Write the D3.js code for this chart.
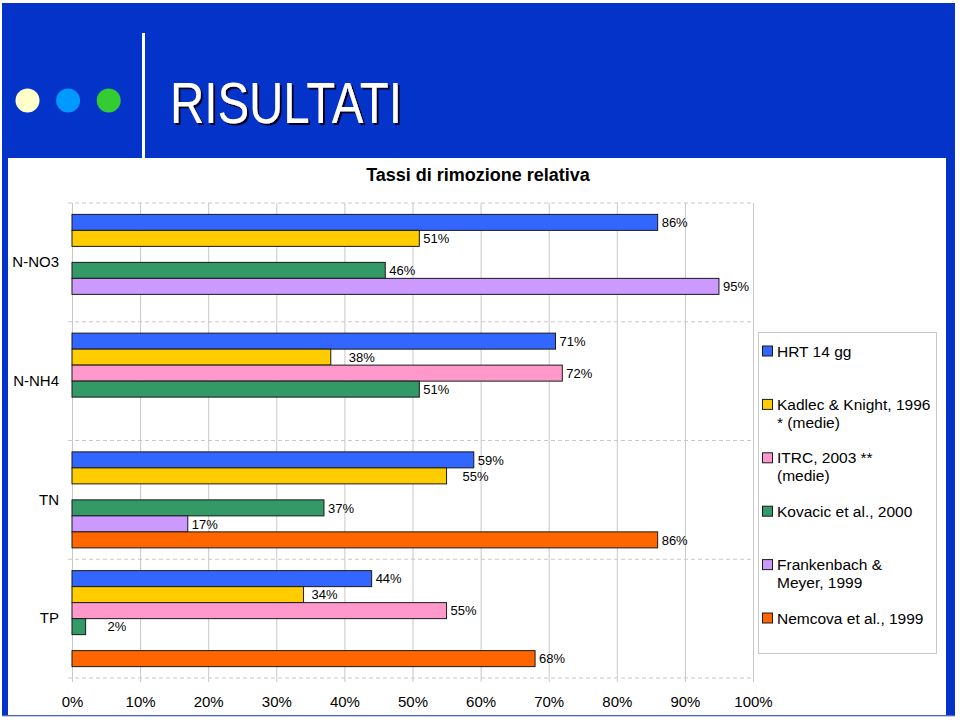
<!DOCTYPE html>
<html>
<head>
<meta charset="utf-8">
<script src="https://cdn.jsdelivr.net/npm/d3@7"></script>
<style>
  html, body { margin: 0; padding: 0; background: #fff; }
  svg { display: block; font-family: "Liberation Sans", Arial, sans-serif; }
</style>
</head>
<body>
<svg id="chart" width="960" height="720"></svg>
<script>
// ---------- DATA ----------
const categories = ["N-NO3", "N-NH4", "TN", "TP"];
const seriesNames = ["HRT 14 gg", "Kadlec & Knight, 1996 * (medie)", "ITRC, 2003 ** (medie)",
                     "Kovacic et al., 2000", "Frankenbach & Meyer, 1999", "Nemcova et al., 1999"];
const legendLines = [["HRT 14 gg"], ["Kadlec & Knight, 1996", "* (medie)"], ["ITRC, 2003 **", "(medie)"],
                     ["Kovacic et al., 2000"], ["Frankenbach &", "Meyer, 1999"], ["Nemcova et al., 1999"]];
const hrt         = [0.86, 0.71, 0.59, 0.44];
const kadlec      = [0.51, 0.38, 0.55, 0.34];
const itrc        = [null, 0.72, null, 0.55];
const kovacic     = [0.46, 0.51, 0.37, 0.02];
const frankenbach = [0.95, null, 0.17, null];
const nemcova     = [null, null, 0.86, 0.68];
const xTicks = [0, 0.1, 0.2, 0.3, 0.4, 0.5, 0.6, 0.7, 0.8, 0.9, 1.0];
const chartTitle = "Tassi di rimozione relativa";
const slideTitle = "RISULTATI";

// ---------- STYLE ----------
const seriesValues = [hrt, kadlec, itrc, kovacic, frankenbach, nemcova];
const colors = ["#3366FF", "#FFCC00", "#FF99CC", "#339966", "#CC99FF", "#FF6600"];
// manual nudges of a few value labels (as in the original slide)
const labelNudge = { "N-NH4|1": 14, "TN|1": 12, "TP|1": 4, "TP|3": 18 };

const svg = d3.select("#chart");
const slideBlue = "#0433C9";

const defs = svg.append("defs");
const f = defs.append("filter").attr("id", "shadow").attr("x", "-10%").attr("y", "-10%")
   .attr("width", "130%").attr("height", "140%");
f.append("feDropShadow").attr("dx", 2).attr("dy", 2).attr("stdDeviation", 0.3)
   .attr("flood-color", "#000022").attr("flood-opacity", 1);

// ---------- SLIDE BACKGROUND ----------
svg.append("rect").attr("x", 0).attr("y", 0).attr("width", 960).attr("height", 720).attr("fill", "#fff");
svg.append("rect").attr("x", 2).attr("y", 3).attr("width", 953).attr("height", 713).attr("fill", slideBlue);
svg.append("rect").attr("x", 8).attr("y", 158).attr("width", 938).attr("height", 557).attr("fill", "#fff");
svg.append("line").attr("x1", 2).attr("x2", 955).attr("y1", 716).attr("y2", 716)
   .attr("stroke", "#8a9ccc").attr("stroke-width", 1);
svg.append("rect").attr("x", 142).attr("y", 33).attr("width", 3).attr("height", 125).attr("fill", "#fff");

const dotColors = ["#FFFFCC", "#0099FF", "#33CC33"];
svg.selectAll("circle.dot").data(dotColors).join("circle")
   .attr("class", "dot")
   .attr("cx", (d, i) => 27.5 + i * 40.6).attr("cy", 100.5).attr("r", 12)
   .attr("fill", d => d);

svg.append("text").attr("x", 170).attr("y", 123)
   .attr("font-size", 57).attr("fill", "#fff")
   .attr("textLength", 232).attr("lengthAdjust", "spacingAndGlyphs")
   .attr("filter", "url(#shadow)")
   .text(slideTitle);

// ---------- CHART ----------
const plot = { left: 72, right: 753, top: 203, bottom: 678 };

svg.append("text").attr("x", 478).attr("y", 181)
   .attr("text-anchor", "middle").attr("font-size", 18).attr("font-weight", "bold")
   .attr("fill", "#000").text(chartTitle);

const x = d3.scaleLinear().domain([0, 1]).range([plot.left, plot.right]);
const pIn = 0.1916;
const y = d3.scaleBand().domain(categories).range([plot.top, plot.bottom])
   .paddingInner(pIn).paddingOuter(pIn / 2);
const ySub = d3.scaleBand().domain(d3.range(seriesNames.length)).range([0, y.bandwidth()]);

// vertical gridlines via axis
const gridAxis = d3.axisBottom(x).tickValues(xTicks).tickFormat("").tickSize(-(plot.bottom - plot.top) - 4).tickSizeOuter(0);
const gGrid = svg.append("g").attr("transform", `translate(0,${plot.bottom + 4})`).call(gridAxis);
gGrid.select(".domain").remove();
gGrid.selectAll(".tick line").attr("stroke", "#c8c8c8").attr("stroke-width", 1);

// horizontal dashed category boundaries
const boundaries = categories.map(c => y(c) - y.step() * pIn / 2).concat([plot.bottom]);
svg.append("g").selectAll("line").data(boundaries).join("line")
   .attr("x1", plot.left - 4).attr("x2", plot.right)
   .attr("y1", d => d).attr("y2", d => d)
   .attr("stroke", "#c8c8c8").attr("stroke-width", 1).attr("stroke-dasharray", "4,3");

// x tick labels
const xAxis = d3.axisBottom(x).tickValues(xTicks).tickFormat(d3.format(".0%")).tickSize(0).tickPadding(18);
const gx = svg.append("g").attr("transform", `translate(0,${plot.bottom})`).call(xAxis);
gx.select(".domain").remove();
gx.selectAll("text").attr("font-size", 15).attr("font-family", "Liberation Sans, Arial, sans-serif").attr("fill", "#000");

// category labels
const yAxis = d3.axisLeft(y).tickSize(0).tickPadding(13);
const gy = svg.append("g").attr("transform", `translate(${plot.left},0)`).call(yAxis);
gy.select(".domain").remove();
gy.selectAll("text").attr("font-size", 15).attr("font-family", "Liberation Sans, Arial, sans-serif").attr("fill", "#000");

// bars
const barData = [];
categories.forEach((c, ci) => {
  seriesValues.forEach((vals, si) => {
    if (vals[ci] !== null) barData.push({ cat: c, s: si, v: vals[ci] });
  });
});

svg.append("g").selectAll("rect").data(barData).join("rect")
   .attr("x", x(0))
   .attr("y", d => y(d.cat) + ySub(d.s))
   .attr("width", d => x(d.v) - x(0))
   .attr("height", ySub.bandwidth())
   .attr("fill", d => colors[d.s])
   .attr("stroke", "#1a1a1a").attr("stroke-width", 1);

svg.append("g").selectAll("text").data(barData).join("text")
   .attr("x", d => x(d.v) + 4 + (labelNudge[d.cat + "|" + d.s] || 0))
   .attr("y", d => y(d.cat) + ySub(d.s) + ySub.bandwidth() / 2)
   .attr("dy", "0.36em")
   .attr("font-size", 13).attr("fill", "#000")
   .text(d => d3.format(".0%")(d.v));

// legend
const legend = svg.append("g");
legend.append("rect").attr("x", 758.5).attr("y", 332.5).attr("width", 178).attr("height", 321)
   .attr("fill", "#fff").attr("stroke", "#c8c8c8");
const legendY = d3.scalePoint().domain(d3.range(seriesNames.length)).range([351, 618]);
const items = legend.selectAll("g.item").data(seriesNames).join("g").attr("class", "item")
   .attr("transform", (d, i) => `translate(0,${legendY(i)})`);
items.append("rect").attr("x", 762.5).attr("y", -5).attr("width", 10).attr("height", 10)
   .attr("fill", (d, i) => colors[i]).attr("stroke", "#1a1a1a").attr("stroke-width", 1);
items.each(function(d, i) {
  d3.select(this).selectAll("text").data(legendLines[i]).join("text")
    .attr("x", 777).attr("y", (t, j) => j * 18).attr("dy", "0.36em")
    .attr("font-size", 15.5).attr("fill", "#000").text(t => t);
});
</script>
</body>
</html>
